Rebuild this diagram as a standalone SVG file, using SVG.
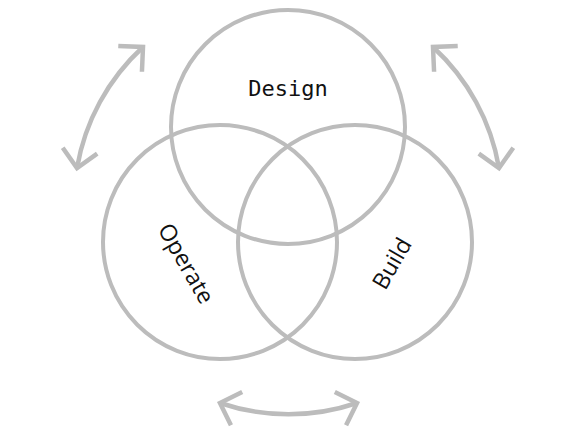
<svg xmlns="http://www.w3.org/2000/svg" width="577" height="432" viewBox="0 0 577 432">
<defs>
<style>
.ring{fill:none;stroke:#bcbcbc;stroke-width:4}
.arc{fill:none;stroke:#bcbcbc;stroke-width:4.5;marker-start:url(#chev);marker-end:url(#chev)}
.lbl{fill:#111;font-family:"Open Sans","Noto Sans",sans-serif;font-size:23px;text-anchor:middle;dominant-baseline:central}
.mono{font-family:"DejaVu Sans Mono","Liberation Mono",monospace;font-size:22px}
</style>
<marker id="chev" markerUnits="userSpaceOnUse" viewBox="-25 -20 30 40" markerWidth="30" markerHeight="40" refX="0" refY="0" orient="auto-start-reverse" overflow="visible">
<path d="M-17.5 -17.5 L0 0 L-17.5 17.5" fill="none" stroke="#bcbcbc" stroke-width="4.5" stroke-linejoin="miter"/>
</marker>
</defs>
<rect width="577" height="432" fill="#fff"/>
<g id="connectors">
<path class="arc" d="M77 168 A213 213 0 0 1 143 47"/>
<path class="arc" d="M433 47 A213 213 0 0 1 499 168"/>
<path class="arc" d="M357 403 A213 213 0 0 1 220 403"/>
</g>
<g id="design">
<circle class="ring" cx="288" cy="127" r="117"/>
<text class="lbl mono" x="288" y="88">Design</text>
</g>
<g id="operate">
<circle class="ring" cx="220" cy="242" r="117"/>
<text class="lbl" transform="translate(187 263) rotate(60)">Operate</text>
</g>
<g id="build">
<circle class="ring" cx="355" cy="242" r="117"/>
<text class="lbl" transform="translate(391 263) rotate(-60)">Build</text>
</g>
</svg>
